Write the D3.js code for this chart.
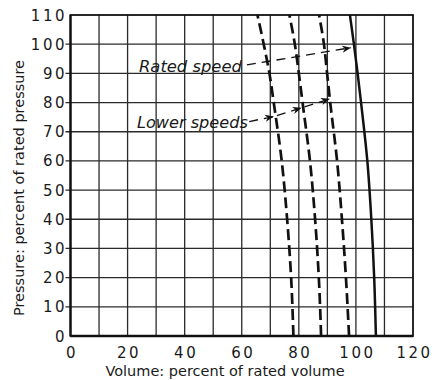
<!DOCTYPE html>
<html><head><meta charset="utf-8">
<script src="https://cdn.jsdelivr.net/npm/d3@7"></script>
<style>
html,body{margin:0;padding:0;background:#fff;}
svg{display:block;}
text{font-family:"DejaVu Sans",sans-serif;fill:#1a1a1a;}
</style></head>
<body>
<svg id="chart" width="433" height="380"></svg>
<script>
// ---- data ----
const pressure      = [110, 100, 90, 80, 60, 40, 20, 0];
const ratedSpeed    = [97.9, 99.3, 100.6, 101.8, 104.0, 105.4, 106.4, 107.0];
const lowerSpeed3   = [87.1, 88.8, 89.9, 91.0, 93.4, 95.1, 96.5, 97.6];
const lowerSpeed2   = [76.7, 78.6, 80.0, 81.3, 83.9, 85.7, 87.0, 87.8];
const lowerSpeed1   = [65.5, 67.7, 69.7, 71.2, 74.0, 75.9, 77.3, 78.1];
const xTicks = [0, 20, 40, 60, 80, 100, 120];
const yTicks = [0, 10, 20, 30, 40, 50, 60, 70, 80, 90, 100, 110];
const xGrid = [10,20,30,40,50,60,70,80,90,100,110];
const yGrid = [10,20,30,40,50,60,70,80,90,100];
const xTitle = "Volume: percent of rated volume";
const yTitle = "Pressure: percent of rated pressure";
const ratedLabel = "Rated speed";
const lowerLabel = "Lower speeds";
// annotation anchors in data units [volume, pressure]
const ratedText = [24.0, 90.5];
const ratedArrow = [[61.8, 92.9], [98.3, 98.8]];
const lowerText = [23.3, 71.3];
const lowerArrows = [[[62.6, 73.5], [71.3, 75.2]], [[72.3, 75.5], [81.0, 78.2]], [[82.0, 78.5], [90.9, 81.3]]];

const svg = d3.select("#chart");
const x = d3.scaleLinear().domain([0, 120]).range([70.5, 413]);
const y = d3.scaleLinear().domain([0, 110]).range([336, 15]);

// grid
const g = svg.append("g");
g.selectAll(".vg").data(xGrid).join("line")
  .attr("x1", d => x(d)).attr("x2", d => x(d)).attr("y1", y(0)).attr("y2", y(110))
  .attr("stroke", "#2a2a2a").attr("stroke-width", 1.3);
g.selectAll(".hg").data(yGrid).join("line")
  .attr("x1", x(0) - 5).attr("x2", x(120)).attr("y1", d => y(d)).attr("y2", d => y(d))
  .attr("stroke", "#2a2a2a").attr("stroke-width", 1.3);
// border
g.append("rect").attr("x", x(0)).attr("y", y(110)).attr("width", x(120) - x(0)).attr("height", y(0) - y(110))
  .attr("fill", "none").attr("stroke", "#111").attr("stroke-width", 1.8);
g.append("line").attr("x1", x(0)).attr("x2", x(120)).attr("y1", y(0)).attr("y2", y(0))
  .attr("stroke", "#111").attr("stroke-width", 2.4);
g.append("line").attr("x1", x(0)).attr("x2", x(0)).attr("y1", y(0)).attr("y2", y(110))
  .attr("stroke", "#111").attr("stroke-width", 2.2);

// tick labels
svg.selectAll(".xt").data(xTicks).join("text")
  .attr("x", d => x(d) + 1.5).attr("y", 358).attr("text-anchor", "middle")
  .attr("font-size", 15).attr("letter-spacing", 2.5).text(d => d);
svg.selectAll(".yt").data(yTicks).join("text")
  .attr("x", 67).attr("y", d => y(d) + 5.5).attr("text-anchor", "end")
  .attr("font-size", 15).attr("letter-spacing", 2.5).text(d => d);

// titles
svg.append("text").attr("x", 225).attr("y", 376).attr("text-anchor", "middle")
  .attr("font-size", 14.5).text(xTitle);
svg.append("text").attr("transform", "translate(24,188) rotate(-90)").attr("text-anchor", "middle")
  .attr("font-size", 14.5).text(yTitle);

// curves
const line = d3.line().x(d => x(d[0])).y(d => y(d[1])).curve(d3.curveMonotoneY);
function curve(vals, dashed) {
  svg.append("path").datum(vals.map((v, i) => [v, pressure[i]]).reverse())
    .attr("d", line).attr("fill", "none").attr("stroke", "#111")
    .attr("stroke-width", dashed ? 2.7 : 2.5)
    .attr("stroke-dasharray", dashed ? "11,5" : null);
}
curve(lowerSpeed1, true);
curve(lowerSpeed2, true);
curve(lowerSpeed3, true);
curve(ratedSpeed, false);

// arrow marker
svg.append("defs").append("marker").attr("id", "ah")
  .attr("viewBox", "0 0 10 10").attr("refX", 10).attr("refY", 5)
  .attr("markerWidth", 9).attr("markerHeight", 9).attr("markerUnits", "userSpaceOnUse")
  .attr("orient", "auto")
  .append("path").attr("d", "M0,1 L10,5 L0,9 L3,5 Z").attr("fill", "#111");

function arrow(seg) {
  svg.append("line")
    .attr("x1", x(seg[0][0])).attr("y1", y(seg[0][1]))
    .attr("x2", x(seg[1][0])).attr("y2", y(seg[1][1]))
    .attr("stroke", "#111").attr("stroke-width", 1.3).attr("stroke-dasharray", "9,6")
    .attr("marker-end", "url(#ah)");
}
arrow(ratedArrow);
lowerArrows.forEach(arrow);

// labels
function fitText(sel, w) {
  const fs = +sel.attr("font-size");
  const len = sel.node().getComputedTextLength();
  sel.attr("font-size", fs * w / len);
}
const rt = svg.append("text").attr("x", x(ratedText[0])).attr("y", y(ratedText[1]))
  .attr("font-size", 15).attr("font-style", "italic").text(ratedLabel);
fitText(rt, 103);
const lt = svg.append("text").attr("x", x(lowerText[0])).attr("y", y(lowerText[1]))
  .attr("font-size", 15).attr("font-style", "italic").text(lowerLabel);
fitText(lt, 111);
</script>
</body></html>
